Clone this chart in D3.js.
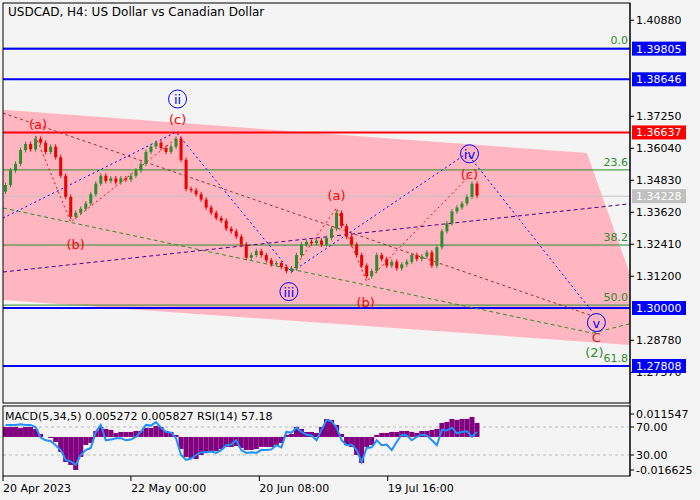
<!DOCTYPE html>
<html><head><meta charset="utf-8">
<script src="https://cdn.jsdelivr.net/npm/d3@7"></script>
<style>body{margin:0;background:#f4f4f4}svg{font-family:"DejaVu Sans",sans-serif}</style>
</head><body><svg id="c" width="700" height="500"></svg>
<script>
const title = "USDCAD, H4:  US Dollar vs Canadian Dollar";
const closes = [1.3465,1.3520,1.3545,1.3597,1.3620,1.3600,1.3640,1.3625,1.3590,1.3610,1.3570,1.3500,1.3420,1.3345,1.3360,1.3375,1.3395,1.3430,1.3470,1.3500,1.3480,1.3490,1.3475,1.3490,1.3485,1.3500,1.3520,1.3545,1.3590,1.3610,1.3625,1.3605,1.3590,1.3610,1.3640,1.3560,1.3450,1.3445,1.3430,1.3410,1.3380,1.3360,1.3340,1.3330,1.3300,1.3290,1.3270,1.3240,1.3190,1.3200,1.3215,1.3200,1.3180,1.3165,1.3170,1.3155,1.3140,1.3150,1.3200,1.3240,1.3250,1.3245,1.3255,1.3240,1.3265,1.3300,1.3360,1.3310,1.3270,1.3240,1.3200,1.3160,1.3120,1.3140,1.3200,1.3185,1.3160,1.3175,1.3150,1.3165,1.3175,1.3200,1.3185,1.3195,1.3210,1.3160,1.3230,1.3290,1.3320,1.3365,1.3380,1.3395,1.3420,1.3470,1.3425];
const openFirst = 1.3440;
const macd = [10,10,10,9,10,10,8,3,0,-1,-5,-15,-25,-28,-33,-20,-8,-6,6,10,8,7,4,5,5,5,6,6,9,9,11,10,6,5,2,-12,-20,-21,-22,-18,-15,-15,-14,-12,-10,-10,-9,-11,-13,-13,-12,-10,-10,-10,-8,-6,2,3,10,8,5,5,4,10,18,17,12,3,-8,-10,-18,-26,-10,-8,2,4,4,5,5,6,6,5,4,6,6,7,8,14,15,18,17,18,18,20,14].map(v => v*0.000503);
const rsi = [73,73,73,74,73,73,70,55,51,50,44,37,23,21,16,30,37,40,63,73,51,52,54,54,51,52,56,63,73,72,77,69,63,62,54,30,23,25,30,34,34,35,33,37,44,45,51,37,33,34,33,37,37,38,44,41,63,62,69,63,59,58,51,66,80,78,69,51,44,45,37,20,40,41,51,44,45,37,49,59,58,51,56,59,58,51,44,66,65,69,61,63,64,56,63];
const dateLabels = [["20 Apr 2023",-0.5],["22 May 00:00",25],["20 Jun 08:00",50.6],["19 Jul 16:00",76.2]];
const priceTicks = [1.40880,1.37250,1.36040,1.34830,1.33620,1.32410,1.31200,1.28780,1.27570];
const boxLevels = [[1.39805,"#0000ff"],[1.38646,"#0000ff"],[1.36637,"#ff0000"],[1.34228,"#c0c0c0"],[1.30000,"#0000ff"],[1.27808,"#0000ff"]];
const fibLevels = [["0.0",1.3982],["23.6",1.3522],["38.2",1.3238],["50.0",1.3011],["61.8",1.2781]];
const channelTop = [[-0.5,1.3749],[115.9,1.3586],[124.9,1.3106]];
const channelBottom = [[124.9,1.2860],[-0.5,1.3030]];
const blueWave = [[-0.5,1.3340],[34,1.3665],[57,1.3136],[92,1.3585],[117,1.2985]];
const redWave1 = [[6,1.3650],[13,1.3325],[34,1.3640]];
const redWave2 = [[57,1.3136],[66,1.3378],[72,1.3100],[93,1.3510]];
const brownLine = [[-0.5,1.3737],[117,1.2970]];
const greenLine = [[-0.5,1.3378],[117,1.2905],[125,1.2943]];
const purpleLine = [[-0.5,1.3136],[125,1.3395]];
const waveLabels = [["(a)",6.5,1.3695,"#ff0000",false],["(b)",14,1.3243,"#ff0000",false],["ii",34.3,1.3790,"#0000ff",true],["(c)",34.3,1.3715,"#ff0000",false],["iii",56.5,1.3062,"#0000ff",true],["(a)",66,1.3428,"#ff0000",false],["(b)",71.8,1.3022,"#ff0000",false],["iv",92.5,1.3583,"#0000ff",true],["(c)",92.5,1.3507,"#ff0000",false],["v",117.8,1.2945,"#0000ff",true],["C",117.8,1.2892,"#b03030",false],["(2)",117.4,1.2834,"#2e8b2e",false]];

const svg = d3.select("#c");
const L=3,R=630,T=3,B=403,ST=406,SB=476;
const x = d3.scaleLinear().domain([-0.5,124.5]).range([L,R]);
const y = d3.scaleLinear().domain([1.3,1.4088]).range([308,20.2]);
const ym = d3.scaleLinear().domain([-0.016625,0.011547]).range([470,414]);
const yr = d3.scaleLinear().domain([30,70]).range([455,427]);

svg.append("rect").attr("width",700).attr("height",500).attr("fill","#f4f4f4");
const defs = svg.append("defs");
defs.append("clipPath").attr("id","cm").append("rect").attr("x",L).attr("y",T).attr("width",R-L).attr("height",B-T);
defs.append("clipPath").attr("id","cs").append("rect").attr("x",L).attr("y",ST).attr("width",R-L).attr("height",SB-ST);
const g = svg.append("g").attr("clip-path","url(#cm)");
const line = d3.line().x(d=>x(d[0])).y(d=>y(d[1]));
g.append("path").attr("d",line(channelTop.concat(channelBottom))+"Z").attr("fill","#ffb6c1");

fibLevels.forEach(f=>g.append("line").attr("x1",L).attr("x2",R).attr("y1",y(f[1])).attr("y2",y(f[1])).attr("stroke","#2e8b2e").attr("stroke-width",1));
boxLevels.forEach(b=>g.append("line").attr("x1",L).attr("x2",R).attr("y1",y(b[0])).attr("y2",y(b[0])).attr("stroke",b[1]).attr("stroke-width",b[1]=="#c0c0c0"?1:2));

const dl=(pts,col,dash)=>g.append("path").attr("d",line(pts)).attr("fill","none").attr("stroke",col).attr("stroke-width",1).attr("stroke-dasharray",dash);
dl(brownLine,"#a52a2a","3,3");
dl(greenLine,"#2e8b2e","4,3");
dl(purpleLine,"#4b0082","4,3");
dl(blueWave,"#0000ff","2,3");
dl(redWave1,"#ff0000","2,3");
dl(redWave2,"#ff0000","2,3");

const cw=3;
closes.forEach((c,i)=>{
  const o = i===0?openFirst:closes[i-1];
  const up=c>=o, col=up?"#2e8b2e":"#ee0000";
  const hi=Math.max(o,c)+0.0009, lo=Math.min(o,c)-0.0009;
  g.append("line").attr("x1",x(i)).attr("x2",x(i)).attr("y1",y(hi)).attr("y2",y(lo)).attr("stroke",col);
  g.append("rect").attr("x",x(i)-cw/2).attr("y",y(Math.max(o,c))).attr("width",cw).attr("height",Math.max(1,Math.abs(y(o)-y(c)))).attr("fill",col);
});

waveLabels.forEach(w=>{
  const px=x(w[1]), py=y(w[2]);
  if(w[4]) g.append("circle").attr("cx",px).attr("cy",py).attr("r",9).attr("fill","none").attr("stroke",w[3]).attr("stroke-width",1);
  g.append("text").attr("x",px).attr("y",py+5).attr("text-anchor","middle").attr("font-size",13).attr("fill",w[3]).text(w[0]);
});
fibLevels.forEach(f=>g.append("text").attr("x",628).attr("y",y(f[1])-4).attr("text-anchor","end").attr("font-size",11).attr("fill","#2e8b2e").text(f[0]));

svg.append("text").attr("x",8).attr("y",16).attr("font-size",12).text(title);
svg.append("rect").attr("x",L).attr("y",T).attr("width",R-L).attr("height",B-T).attr("fill","none").attr("stroke","#000");

svg.append("line").attr("x1",R).attr("x2",R).attr("y1",T).attr("y2",SB).attr("stroke","#000");
priceTicks.forEach(p=>{
  svg.append("line").attr("x1",R).attr("x2",R+4).attr("y1",y(p)).attr("y2",y(p)).attr("stroke","#000");
  svg.append("text").attr("x",636).attr("y",y(p)+4).attr("font-size",11).text(p.toFixed(5));
});
boxLevels.forEach(b=>{
  svg.append("rect").attr("x",632).attr("y",y(b[0])-7).attr("width",54).attr("height",14).attr("fill",b[1]);
  svg.append("text").attr("x",636).attr("y",y(b[0])+4).attr("font-size",11).attr("fill","#fff").text(b[0].toFixed(5));
});

const s = svg.append("g").attr("clip-path","url(#cs)");
[70,30].forEach(v=>s.append("line").attr("x1",L).attr("x2",R).attr("y1",yr(v)).attr("y2",yr(v)).attr("stroke","#bbb").attr("stroke-dasharray","3,3"));
macd.forEach((m,i)=>s.append("rect").attr("x",x(i)-2.5).attr("width",5).attr("y",Math.min(ym(m),ym(0))).attr("height",Math.abs(ym(m)-ym(0))).attr("fill","#800080"));
s.append("path").attr("d",d3.line().x((d,i)=>x(i)).y(d=>yr(d))(rsi)).attr("fill","none").attr("stroke","#1e90ff").attr("stroke-width",2);
svg.append("rect").attr("x",L).attr("y",ST).attr("width",R-L).attr("height",SB-ST).attr("fill","none").attr("stroke","#000");
svg.append("text").attr("x",5).attr("y",420).attr("font-size",11).text("MACD(5,34,5) 0.005272 0.005827 RSI(14) 57.18");
[["0.011547",ym(0.011547)],["70.00",yr(70)],["30.00",yr(30)],["-0.016625",ym(-0.016625)]].forEach(t=>{
  svg.append("line").attr("x1",R).attr("x2",R+4).attr("y1",t[1]).attr("y2",t[1]).attr("stroke","#000");
  svg.append("text").attr("x",636).attr("y",t[1]+4).attr("font-size",11).text(t[0]);
});
dateLabels.forEach(d=>{
  svg.append("line").attr("x1",x(d[1])).attr("x2",x(d[1])).attr("y1",SB).attr("y2",SB+5).attr("stroke","#000");
  svg.append("text").attr("x",x(d[1])).attr("y",492).attr("font-size",11).text(d[0]);
});
</script></body></html>
